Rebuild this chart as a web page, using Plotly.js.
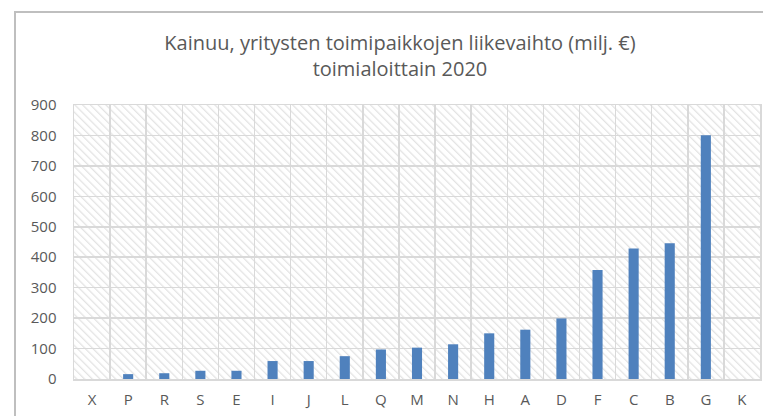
<!DOCTYPE html>
<html>
<head>
<meta charset="utf-8">
<script src="https://cdn.plot.ly/plotly-3.0.1.min.js"></script>
<style>
html,body{margin:0;padding:0;background:#fff;overflow:hidden;width:763px;height:416px;}
#frame{position:absolute;left:14px;top:11px;width:752px;height:410px;border:2px solid #bfbfbf;background:#fff;}
#chart{width:752px;height:410px;}
</style>
</head>
<body>
<div id="frame"><div id="chart"></div></div>
<script>
const categories = ["X","P","R","S","E","I","J","L","Q","M","N","H","A","D","F","C","B","G","K"];
const values = [0,16,19,27,27,59,59,75,97,103,114,150,162,199,358,429,446,801,0];
const yTicks = [0,100,200,300,400,500,600,700,800,900];
const titleText = "Kainuu, yritysten toimipaikkojen liikevaihto (milj. €)<br>toimialoittain 2020";

const font = "'Open Sans', 'Liberation Sans', sans-serif";

const hatch = 'data:image/svg+xml;utf8,' + encodeURIComponent(
 '<svg xmlns="http://www.w3.org/2000/svg" width="686" height="274" preserveAspectRatio="none">' +
 '<defs><pattern id="p" width="5.5" height="5.5" patternUnits="userSpaceOnUse" patternTransform="rotate(-45)">' +
 '<rect width="5.5" height="5.5" fill="#ffffff"/><line x1="0" y1="0" x2="0" y2="5.5" stroke="#e3e3e3" stroke-width="2.5"/></pattern></defs>' +
 '<rect width="686" height="274" fill="url(#p)"/></svg>');

const trace = {
  type: 'bar',
  x: categories,
  y: values,
  marker: {color: '#4f81bd'},
  hoverinfo: 'x+y'
};

const layout = {
  width: 752, height: 410,
  margin: {l: 58, r: 8, t: 92, b: 44},
  paper_bgcolor: '#ffffff',
  plot_bgcolor: 'rgba(0,0,0,0)',
  bargap: 0.72,
  showlegend: false,
  font: {family: font, color: '#595959', size: 15},
  title: {
    text: titleText,
    font: {family: font, size: 20, color: '#595959'},
    xref: 'container', x: 0.5106, xanchor: 'center',
    yref: 'container', y: 0.91, yanchor: 'middle'
  },
  xaxis: {
    type: 'category',
    tickson: 'boundaries',
    showgrid: true, gridcolor: '#d9d9d9', gridwidth: 1.5,
    showline: true, linecolor: '#d9d9d9', linewidth: 1.5, mirror: true,
    ticks: '',
    ticklabelstandoff: 6,
    tickfont: {family: font, size: 15, color: '#595959'}
  },
  yaxis: {
    range: [0, 900],
    tickvals: yTicks,
    ticktext: yTicks.map(String),
    showgrid: true, gridcolor: '#d9d9d9', gridwidth: 1.5,
    zeroline: false,
    showline: true, linecolor: '#d9d9d9', linewidth: 1.5, mirror: true,
    ticks: '',
    ticklabelstandoff: 13,
    tickfont: {family: font, size: 15, color: '#595959'}
  },
  images: [{
    source: hatch,
    xref: 'paper', yref: 'paper',
    x: 0, y: 1, sizex: 1, sizey: 1,
    xanchor: 'left', yanchor: 'top',
    sizing: 'stretch', layer: 'below'
  }]
};

Plotly.newPlot('chart', [trace], layout, {displayModeBar: false, staticPlot: true});
</script>
</body>
</html>
